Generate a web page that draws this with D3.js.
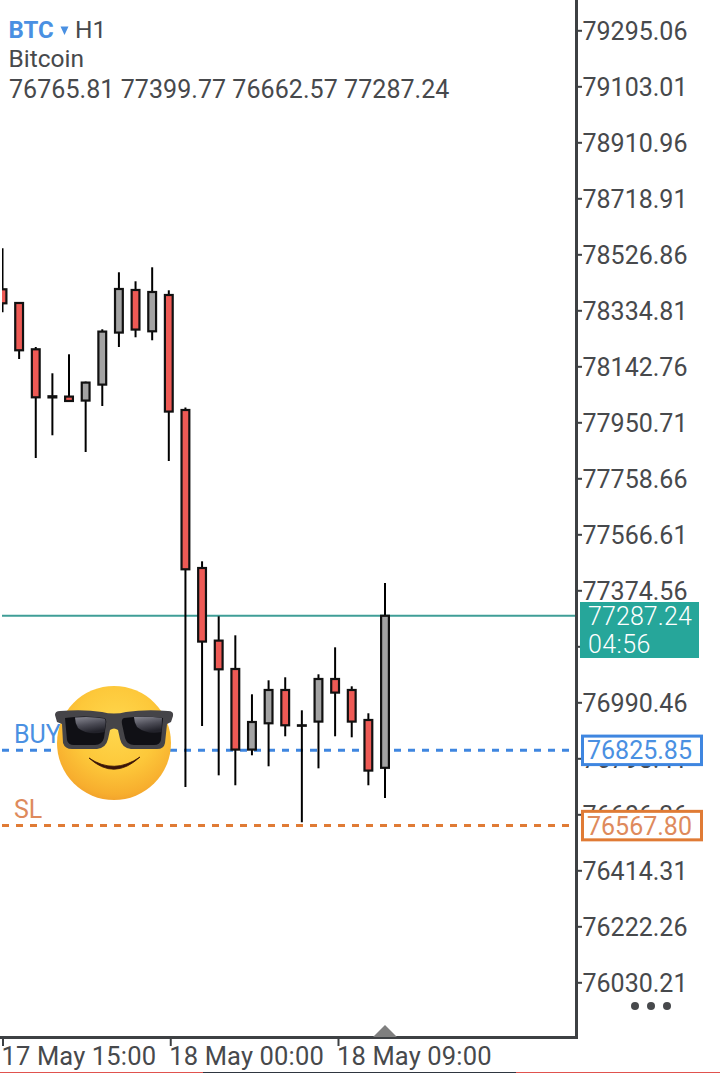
<!DOCTYPE html>
<html>
<head>
<meta charset="utf-8">
<script src="https://cdn.jsdelivr.net/npm/d3@7/dist/d3.min.js"></script>
<style>
html,body{margin:0;padding:0;background:#fff;}
svg{display:block;font-family:Roboto,sans-serif;}
.price-axis text,.time-axis text{font-size:25px;fill:#47494c;font-family:Roboto,sans-serif;}
.time-axis text{font-size:25.5px;letter-spacing:0.15px;}
.price-axis line,.time-axis line{stroke:#3d4043;stroke-width:2;}
</style>
</head>
<body>
<svg id="chart" width="720" height="1073"></svg>
<script>
// Hourly BTC candles, oldest first
const opens  = [78406.9,78359.9,78201.1,78040.0,78038.9,78025.2,78080.0,78258.4,78404.5,78262.8,78387.3,77992.9,77451.0,77202.0,77104.7,76828.3,76918.5,77032.7,76911.6,76924.3,77070.4,77032.7,76929.8,76765.81];
const highs  = [78547.5,78361.0,78209.0,78118.8,78184.0,78090.3,78269.7,78465.2,78434.3,78482.3,78403.4,78001.2,77474.0,77285.4,77220.2,77017.9,77065.9,77076.2,76963.0,77086.5,77179.0,77045.3,76952.8,77399.77];
const lows   = [78328.0,78167.8,77828.3,77906.2,78022.0,77848.9,78006.7,78209.0,78242.3,78232.0,77818.0,76700.0,76909.2,76740.0,76705.9,76808.7,76771.0,76873.9,76579.0,76764.0,76873.9,76870.4,76705.9,76662.57];
const closes = [78358.8,78197.7,78036.4,78036.0,78023.8,78086.9,78261.8,78407.9,78268.7,78397.6,77987.5,77446.6,77198.7,77103.6,76828.3,76922.9,77032.7,76911.6,76910.0,77070.4,77023.7,76924.3,76756.3,77287.24];

const priceTicks = [79295.06,79103.01,78910.96,78718.91,78526.86,78334.81,78142.76,77950.71,77758.66,77566.61,77374.56,77182.51,76990.46,76798.41,76606.36,76414.31,76222.26,76030.21];
const timeTicks = [Date.UTC(2025,4,17,15),Date.UTC(2025,4,18,0),Date.UTC(2025,4,18,9)].map(t=>new Date(t));

const symbol = "BTC", timeframe = "H1", instrument = "Bitcoin";
const lastPrice = 77287.24, countdown = "04:56";
const buyPrice = 76825.85, stopPrice = 76567.80;

const BLUE_TEXT = "#4a90e2", BLUE_LINE = "#3f86e0";
const ORANGE_TEXT = "#de8a5c", ORANGE_LINE = "#e07b35";
const TEAL = "#26a69a", INK = "#47494c", AXIS = "#3d4043";

const svg = d3.select("#chart");
const defs = svg.append("defs");
defs.append("clipPath").attr("id","plot").append("rect")
  .attr("x",2).attr("y",0).attr("width",573).attr("height",1036);

const y = d3.scaleLinear().domain([76990.46,79295.06]).range([702.3,30.3]);
const x = d3.scaleLinear().domain([0,opens.length-1]).range([2.5,385]);
const t = d3.scaleUtc().domain([timeTicks[0],timeTicks[2]]).range([2.5,338]);

const plot = svg.append("g").attr("clip-path","url(#plot)");

// Current price and order levels sit behind the candles
plot.append("line").attr("x1",2).attr("x2",576)
  .attr("y1",y(lastPrice)).attr("y2",y(lastPrice))
  .attr("stroke","#3f9e97").attr("stroke-width",2);
[[buyPrice,BLUE_LINE],[stopPrice,ORANGE_LINE]].forEach(([p,c])=>{
  plot.append("line").attr("x1",2).attr("x2",576)
    .attr("y1",y(p)).attr("y2",y(p))
    .attr("stroke",c).attr("stroke-width",3).attr("stroke-dasharray","7 7");
});

// Candles: grey when price rose over the hour, red when it fell
const candles = plot.selectAll("g.candle").data(d3.range(opens.length)).join("g").attr("class","candle");
candles.append("line")
  .attr("x1",i=>x(i)).attr("x2",i=>x(i))
  .attr("y1",i=>y(highs[i])).attr("y2",i=>y(lows[i]))
  .attr("stroke","#000").attr("stroke-width",2);
candles.append("rect")
  .attr("x",i=>x(i)-3.9).attr("width",7.8)
  .attr("y",i=>y(Math.max(opens[i],closes[i])))
  .attr("height",i=>Math.abs(y(opens[i])-y(closes[i])))
  .attr("fill",i=>closes[i]>=opens[i]?"#a3a3a3":"#ee5a55")
  .attr("stroke","#111").attr("stroke-width",2.2);

// Level captions
svg.append("text").attr("x",14).attr("y",743).attr("font-size",25).attr("fill",BLUE_TEXT).text("BUY");
svg.append("text").attr("x",14).attr("y",818).attr("font-size",25).attr("fill",ORANGE_TEXT).text("SL");

// Axes; the label under the live price tag stays blank, only its tick shows
const priceAxis = d3.axisRight(y).tickValues(priceTicks).tickSize(6).tickPadding(1)
  .tickFormat(v=>v===77182.51?"":d3.format(".2f")(v));
svg.append("g").attr("class","price-axis").attr("transform","translate(576,0)").call(priceAxis)
  .call(g=>g.select(".domain").remove())
  .call(g=>g.selectAll("text").attr("dy","0.36em").attr("x",6.5));
const timeAxis = d3.axisBottom(t).tickValues(timeTicks).tickSize(9).tickPadding(0).tickFormat(d3.utcFormat("%d %b %H:%M"));
svg.append("g").attr("class","time-axis").attr("transform","translate(0,1037)").call(timeAxis)
  .call(g=>g.select(".domain").remove())
  .call(g=>g.selectAll("text").attr("text-anchor","start").attr("x",-1.5).attr("y",10).attr("dy","0.71em"));

svg.append("path").attr("d","M576.5,0V1037.5H0").attr("fill","none").attr("stroke",AXIS).attr("stroke-width",3);

// Bar-shift marker and menu dots
svg.append("path").attr("d","M385,1025L397,1037H373Z").attr("fill","#7f7f7f");
[635,651,667].forEach(cx=>svg.append("circle").attr("cx",cx).attr("cy",1006).attr("r",4).attr("fill",INK));

// Status strip along the bottom edge
[[0,203,"#e0524e"],[203,516,"#2f3640"],[516,720,"#e0524e"]].forEach(([a,b,c])=>
  svg.append("rect").attr("x",a).attr("y",1072).attr("width",b-a).attr("height",1).attr("fill",c));

// Price tags on the right-hand scale
svg.append("rect").attr("x",580).attr("y",602).attr("width",119).attr("height",56).attr("fill",TEAL);
svg.append("text").attr("x",588).attr("y",625).attr("font-size",25).attr("font-weight",300).attr("fill","#fff").attr("letter-spacing",0.1).text(lastPrice.toFixed(2));
svg.append("text").attr("x",588).attr("y",653).attr("font-size",25).attr("font-weight",300).attr("fill","#fff").attr("letter-spacing",0.4).text(countdown);

[[buyPrice,BLUE_LINE,BLUE_TEXT],[stopPrice,ORANGE_LINE,ORANGE_TEXT]].forEach(([p,c,tc])=>{
  const cy = y(p);
  svg.append("rect").attr("x",582.5).attr("y",cy-14.2).attr("width",119).attr("height",28.5)
    .attr("fill","#fff").attr("stroke",c).attr("stroke-width",3);
  svg.append("text").attr("x",587).attr("y",cy+9.2).attr("font-size",25).attr("fill",tc).text(p.toFixed(2));
});

// Header block
svg.append("text").attr("x",8.5).attr("y",38).attr("font-size",24).attr("font-weight",700).attr("fill",BLUE_TEXT).text(symbol);
svg.append("path").attr("d","M60.5,26.5H68.5L64.5,35Z").attr("fill",BLUE_TEXT);
svg.append("text").attr("x",75).attr("y",38).attr("font-size",24.5).attr("fill",INK).text(timeframe);
svg.append("text").attr("x",8.5).attr("y",67).attr("font-size",24.5).attr("fill",INK).text(instrument);
svg.append("text").attr("x",9).attr("y",98).attr("font-size",25).attr("letter-spacing",0.06).attr("fill",INK)
  .text([opens,highs,lows,closes].map(a=>a[a.length-1].toFixed(2)).join(" "));

// Smiling face with sunglasses
const face = defs.append("radialGradient").attr("id","faceFill")
  .attr("cx","0.52").attr("cy","0.36").attr("r","0.72");
[[0,"#ffd84e"],[0.5,"#fdc83a"],[0.82,"#f7ae2e"],[1,"#ec9428"]].forEach(([o,c])=>
  face.append("stop").attr("offset",o).attr("stop-color",c));
const lens = defs.append("linearGradient").attr("id","lensShine")
  .attr("x1","0").attr("y1","0").attr("x2","0.3").attr("y2","1");
[[0,"#8a8a94"],[0.55,"#4c4c56"],[1,"#22222a"]].forEach(([o,c])=>
  lens.append("stop").attr("offset",o).attr("stop-color",c));

const emoji = svg.append("g");
emoji.append("circle").attr("cx",114).attr("cy",743).attr("r",57).attr("fill","url(#faceFill)");
emoji.append("path")
  .attr("d","M55,715Q55,711 60,711Q84,709 102,712Q114,715 126,712Q146,709 168,711Q174,711 173,716L171,722L167,724L165,743Q164,749 157,749L131,749Q122,748 120,739L118,730Q114,727 110,730L108,739Q106,748 97,749L72,749Q65,749 63,743L62,724L57,722Z")
  .attr("fill","#454448");
// Dark lenses, each with a soft reflection across the upper part
emoji.append("path").attr("d","M65,718Q84,715 104,718Q107,719 106,724L104,738Q102,745 95,745L74,745Q68,745 67,740Z").attr("fill","#101015");
emoji.append("path").attr("d","M163,718Q144,715 124,718Q121,719 122,724L125,738Q127,745 134,745L154,745Q160,745 161,740Z").attr("fill","#101015");
emoji.append("path").attr("d","M75,717.5Q90,716 104,718.5Q106,719 105.5,724L104.5,732Q88,736 78,728Q75,723 75,717.5Z").attr("fill","url(#lensShine)");
emoji.append("path").attr("d","M134,717Q148,716 162,718L161.5,732Q147,735 137,727Q134,722 134,717Z").attr("fill","url(#lensShine)");
emoji.append("path").attr("d","M89,758Q114,781 140,757Q114,775 89,758Z").attr("fill","#3a1408").attr("stroke","#3a1408").attr("stroke-width",0.8).attr("stroke-linejoin","round");
</script>
</body>
</html>
